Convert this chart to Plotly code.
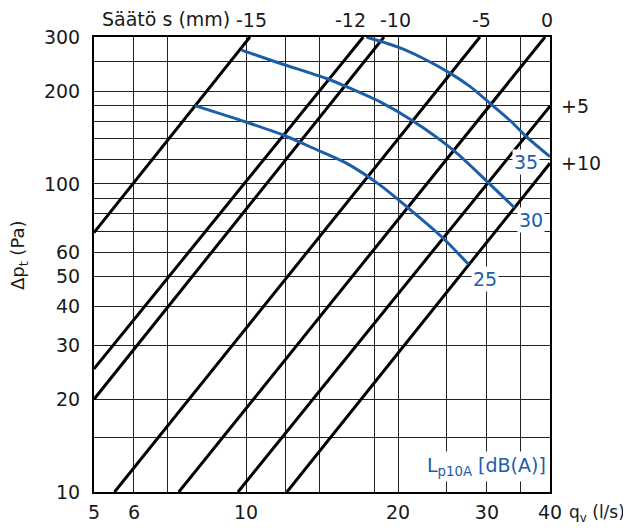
import math
import plotly.graph_objects as go

# ---- Data ----
# Regulation (Säätö s, mm) lines: start/end points (q in l/s, dp in Pa)
setting_labels = ["-15", "-12", "-10", "-5", "0", "+5", "+10"]
setting_q_start = [5.0, 5.0, 5.0, 5.49, 7.36, 9.64, 12.05]
setting_p_start = [69.5, 25.1, 20.0, 10.0, 10.0, 10.0, 10.0]
setting_q_end = [10.18, 17.07, 18.76, 29.06, 39.1, 40.0, 40.0]
setting_p_end = [300.0, 300.0, 300.0, 300.0, 300.0, 179.0, 116.7]

# Sound level curves L_p10A [dB(A)]
q_35 = [17.3, 19.9, 22.4, 25.35, 27.8, 30.4, 33.3, 36.0, 40.0]
p_35 = [300, 279, 256, 229, 207, 183, 161, 142, 122.6]
q_30 = [9.80, 11.67, 14.44, 15.8, 18.4, 21.3, 25.7, 30.0, 34.0]
p_30 = [272, 246.5, 220, 207, 185, 161, 129, 102, 83.8]
q_25 = [7.92, 10.03, 11.85, 13.6, 15.8, 18.4, 20.8, 24.4, 27.6]
p_25 = [179.6, 158.6, 144.2, 130.6, 116.8, 99.3, 84.4, 67.4, 54.8]
sound_labels = ["35", "30", "25"]

# Axis ticks / grid
x_ticks = [5, 6, 10, 20, 30, 40]
x_tick_text = ["5", "6", "10", "20", "30", "40"]
x_grid_dark = [7, 12, 14, 18, 25, 35]
x_grid_light = [8, 9, 16]
y_ticks = [10, 20, 30, 40, 50, 60, 100, 200, 300]
y_tick_text = ["10", "20", "30", "40", "50", "60", "100", "200", "300"]
y_grid_dark = [15, 70, 80, 90, 120, 140, 160, 180, 250]
y_grid_light = [20, 25, 60, 200]

BLUE = "#1c5ea8"
TXT = "#1a1a1a"
GRID = "#222222"
GRID_LIGHT = "#8a8a8a"
FONT = "DejaVu Sans"
FS = 19

fig = go.Figure()

for qs, ps, qe, pe in zip(setting_q_start, setting_p_start, setting_q_end, setting_p_end):
    fig.add_trace(go.Scatter(x=[qs, qe], y=[ps, pe], mode="lines",
                             line=dict(color="black", width=3), hoverinfo="skip"))

for qv, pv in [(q_35, p_35), (q_30, p_30), (q_25, p_25)]:
    fig.add_trace(go.Scatter(x=qv, y=pv, mode="lines",
                             line=dict(color=BLUE, width=3, shape="spline", smoothing=0.8),
                             hoverinfo="skip"))

fig.update_xaxes(
    type="log", range=[math.log10(5), math.log10(40)],
    tickmode="array", tickvals=x_ticks, ticktext=x_tick_text,
    showgrid=True, gridcolor=GRID, gridwidth=1,
    minor=dict(tickmode="array", tickvals=x_grid_dark, showgrid=True,
               gridcolor=GRID, gridwidth=1, ticks=""),
    showline=True, linecolor="black", linewidth=2, mirror=True,
    ticks="", ticklabelstandoff=2, zeroline=False,
    tickfont=dict(family=FONT, size=FS, color=TXT),
)
fig.update_yaxes(
    type="log", range=[1, math.log10(300)],
    tickmode="array", tickvals=y_ticks, ticktext=y_tick_text,
    showgrid=True, gridcolor=GRID, gridwidth=1,
    minor=dict(tickmode="array", tickvals=y_grid_dark, showgrid=True,
               gridcolor=GRID, gridwidth=1, ticks=""),
    showline=True, linecolor="black", linewidth=2, mirror=True,
    ticks="", ticklabelstandoff=8, zeroline=False,
    tickfont=dict(family=FONT, size=FS, color=TXT),
)

# lighter grid lines (drawn under the data)
shapes = []
for v in x_grid_light:
    shapes.append(dict(type="line", xref="x", yref="paper", x0=math.log10(v), x1=math.log10(v),
                       y0=0, y1=1, layer="below", line=dict(color=GRID_LIGHT, width=1.5)))
for v in y_grid_light:
    shapes.append(dict(type="line", xref="paper", yref="y", x0=0, x1=1,
                       y0=math.log10(v), y1=math.log10(v), layer="below",
                       line=dict(color=GRID_LIGHT, width=1.5)))

annotations = []
# top / right labels of setting lines
top_shift = {"-12": -13, "-10": 12}
for lab, qe, pe in zip(setting_labels, setting_q_end, setting_p_end):
    if pe >= 300:
        annotations.append(dict(x=math.log10(qe), xref="x", y=1, yref="paper",
                                text=lab, showarrow=False, xanchor="center", yanchor="middle",
                                xshift=top_shift.get(lab, 2), yshift=17,
                                font=dict(family=FONT, size=FS, color=TXT)))
    else:
        annotations.append(dict(x=1, xref="paper", y=math.log10(pe), yref="y",
                                text=lab, showarrow=False, xanchor="left", yanchor="middle",
                                xshift=9, yshift=0,
                                font=dict(family=FONT, size=FS, color=TXT)))

# sound level labels at curve ends
ends = [(q_35[-1], p_35[-1], -24, -5), (q_30[-1], p_30[-1], 17, -12), (q_25[-1], p_25[-1], 16, -15)]
for lab, (q, p, dx, dy) in zip(sound_labels, ends):
    annotations.append(dict(x=math.log10(q), xref="x", y=math.log10(p), yref="y",
                            text=lab, showarrow=False, xanchor="center", yanchor="middle",
                            xshift=dx, yshift=dy, bgcolor="white", borderpad=1,
                            font=dict(family=FONT, size=FS, color=BLUE)))

annotations += [
    dict(x=0.303, xref="paper", y=1, yref="paper", yshift=18, text="Säätö s (mm)",
         showarrow=False, xanchor="right", yanchor="middle",
         font=dict(family=FONT, size=FS, color=TXT)),
    dict(x=1.037, xref="paper", y=0, yref="paper", yshift=-21, text="q<sub>v</sub> (l/s)",
         showarrow=False, xanchor="left", yanchor="middle",
         font=dict(family=FONT, size=17, color=TXT)),
    dict(x=-0.163, xref="paper", y=0.52, yref="paper", text="Δp<sub>t</sub> (Pa)",
         textangle=-90, showarrow=False, xanchor="center", yanchor="middle",
         font=dict(family=FONT, size=18, color=TXT)),
    dict(x=0.724, xref="paper", y=0.057, yref="paper", text="L<sub>p10A</sub> [dB(A)]",
         showarrow=False, xanchor="left", yanchor="middle", bgcolor="white", borderpad=2,
         font=dict(family=FONT, size=FS, color=BLUE)),
]

# The page body adds an 8px offset; margins compensate so the plot area
# lands at the same place as in the reference picture.
fig.update_layout(
    width=631, height=529,
    margin=dict(l=86, r=89, t=29, b=45),
    paper_bgcolor="white", plot_bgcolor="white",
    showlegend=False, annotations=annotations, shapes=shapes,
    font=dict(family=FONT, size=FS, color=TXT),
)

fig.write_html("out.html")
